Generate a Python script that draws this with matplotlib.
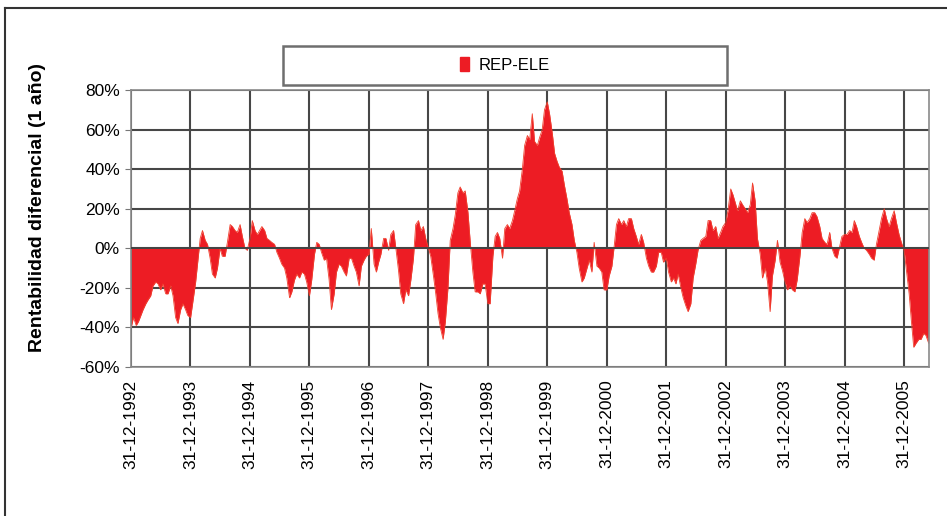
import numpy as np
import pandas as pd
import matplotlib
matplotlib.use("Agg")
import matplotlib.pyplot as plt
from matplotlib.patches import Rectangle, Patch
from matplotlib.lines import Line2D

plt.rcParams['font.family'] = ['Liberation Sans', 'DejaVu Sans']

# 1-year return spread REP-ELE (%), semi-monthly
y1993 = [-40, -35, -39, -37, -34, -31, -28, -26, -24, -19, -17, -18,
         -21, -18, -23, -23, -19, -24, -35, -38, -31, -28, -31, -34]
y1994 = [-35, -27, -17, -6, 5, 9, 4, 2, -5, -13, -15, -10,
         0, -4, -4, 3, 12, 11, 9, 8, 12, 6, 0, -1]
y1995 = [5, 14, 9, 7, 9, 11, 9, 5, 4, 3, 2, -2,
         -5, -8, -10, -15, -25, -22, -16, -13, -15, -12, -13, -17]
y1996 = [-24, -16, -3, 3, 2, -2, -6, -5, -16, -31, -23, -12,
         -8, -9, -12, -14, -5, -5, -9, -12, -19, -9, -6, -4]
y1997 = [-3, 10, -8, -12, -7, -3, 5, 5, -1, 7, 9, 0,
         -11, -23, -28, -21, -24, -16, -5, 12, 14, 9, 11, 5]
y1998 = [0, -4, -14, -23, -33, -40, -46, -37, -20, 4, 10, 17,
         28, 31, 28, 29, 18, 3, -12, -22, -22, -23, -18, -18]
y1999 = [-28, -28, -4, 6, 8, 5, -5, 10, 12, 10, 14, 19,
         25, 29, 40, 52, 57, 55, 68, 54, 52, 56, 60, 70]
y2000 = [74, 68, 58, 48, 44, 41, 39, 32, 25, 18, 12, 4,
         -2, -10, -17, -15, -10, -6, -12, 3, -9, -10, -12, -21]
y2001 = [-21, -14, -9, 1, 12, 15, 12, 14, 11, 15, 15, 10,
         6, 2, 7, 3, -5, -9, -12, -12, -9, -2, -2, -7]
y2002 = [-5, -12, -17, -15, -18, -13, -20, -25, -29, -32, -28, -15,
         -8, -1, 4, 5, 6, 14, 14, 9, 11, 5, 8, 11]
y2003 = [13, 19, 30, 27, 23, 19, 24, 22, 20, 18, 22, 33,
         24, 5, -3, -15, -10, -17, -32, -14, -6, 4, -7, -11]
y2004 = [-17, -21, -19, -21, -22, -16, -4, 8, 15, 13, 15, 18,
         18, 16, 11, 5, 3, 2, 8, 0, -4, -5, 1, 6]
y2005 = [7, 7, 9, 8, 14, 11, 6, 3, 0, -1, -3, -5,
         -6, 2, 9, 15, 20, 15, 11, 15, 19, 13, 7, 3]
y2006 = [-1, -11, -23, -37, -50, -48, -46, -46, -43, -44, -48]

values = np.array(y1993 + y1994 + y1995 + y1996 + y1997 + y1998 + y1999 +
                  y2000 + y2001 + y2002 + y2003 + y2004 + y2005 + y2006) / 100
dates = pd.date_range("1993-01-01", periods=len(values), freq="SMS")

tick_dates = pd.to_datetime([f"{y}-12-31" for y in range(1992, 2006)])
tick_labels = [d.strftime("%d-%m-%Y") for d in tick_dates]
y_ticks = [-0.6, -0.4, -0.2, 0.0, 0.2, 0.4, 0.6, 0.8]

fig = plt.figure(figsize=(9.47, 5.16), dpi=100)
ax = fig.add_axes([131 / 947, 1 - 367 / 516, (929 - 131) / 947, (367 - 90) / 516])

ax.fill_between(dates, values, 0, color='#ED1C24', lw=0, zorder=2)
ax.plot(dates, values, color='#F0402E', lw=0.6, zorder=2)
ax.axhline(0, color='#444444', lw=1.4, zorder=3)

ax.set_xlim(pd.Timestamp("1992-12-31"), pd.Timestamp("2006-06-03"))
ax.set_ylim(-0.6, 0.8)
ax.set_yticks(y_ticks)
ax.set_yticklabels([f"{round(v * 100)}%" for v in y_ticks], fontsize=12.5)
ax.set_xticks(tick_dates)
ax.set_xticklabels(tick_labels, rotation=90, fontsize=12.5)
ax.tick_params(axis='x', length=0, pad=9)
ax.tick_params(axis='y', length=4, color='#777777', pad=4)

ax.grid(True, color='#474747', lw=1.5, zorder=0)
ax.set_axisbelow(True)
for s in ax.spines.values():
    s.set_color('#8a8a8a')
    s.set_linewidth(1.2)

fig.text(37 / 947, 1 - 208 / 516, "Rentabilidad diferencial (1 año)",
         rotation=90, ha='center', va='center', fontsize=14, fontweight='bold')

# legend box
fig.add_artist(Rectangle((283 / 947, 1 - 85 / 516), 444 / 947, 39 / 516,
                         transform=fig.transFigure, facecolor='white',
                         edgecolor='#6e6e6e', lw=1.8))
fig.legend(handles=[Patch(color='#ED1C24', label='REP-ELE')],
           loc='center', bbox_to_anchor=(505 / 947, 1 - 65 / 516),
           frameon=False, fontsize=12, handlelength=0.5, handleheight=0.9,
           handletextpad=0.6)

# outer frame
fig.add_artist(Line2D([5 / 947, 5 / 947], [0, 1 - 8 / 516],
                      transform=fig.transFigure, color='#333333', lw=1.5))
fig.add_artist(Line2D([5 / 947, 1], [1 - 8 / 516, 1 - 8 / 516],
                      transform=fig.transFigure, color='#333333', lw=1.5))

fig.savefig("out.png", dpi=100)
